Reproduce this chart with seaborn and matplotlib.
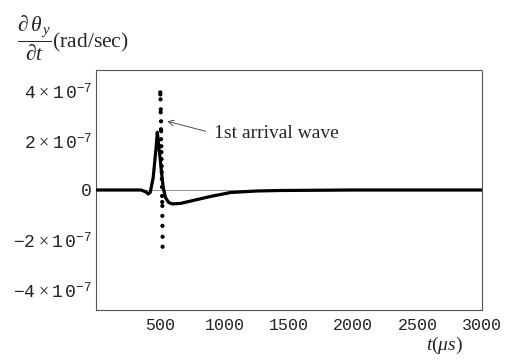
import numpy as np
import pandas as pd
import matplotlib
matplotlib.use("Agg")
import matplotlib.pyplot as plt
import seaborn as sns
from matplotlib.ticker import FuncFormatter

# angular velocity trace (thick line), t in microseconds
t_line = [0, 200, 350, 390, 406, 422, 445, 460, 469, 477, 488, 500, 512, 523, 540,
          565, 594, 656, 773, 890, 1047, 1250, 1437, 2000, 2500, 3000]
v_line = [0, 0, 0, -0.08e-7, -0.16e-7, -0.1e-7, 0.5e-7, 1.3e-7, 1.8e-7, 2.32e-7,
          1.8e-7, 1.2e-7, 0.6e-7, 0.1e-7, -0.3e-7, -0.5e-7, -0.56e-7, -0.54e-7,
          -0.4e-7, -0.26e-7, -0.1e-7, -0.04e-7, -0.02e-7, 0, 0, 0]

# scattered samples around the first arrival
t_dots = [500, 500, 502, 504, 503, 506, 505, 507, 506, 508, 509, 510, 511, 511,
          512, 513, 514, 515, 516, 516, 517, 518, 518]
v_dots = [3.92e-7, 3.84e-7, 3.64e-7, 3.24e-7, 3.12e-7, 2.76e-7, 2.44e-7, 2.36e-7,
          2.04e-7, 1.76e-7, 1.52e-7, 1.24e-7, 0.96e-7, 0.72e-7, 0.44e-7, 0.12e-7,
          -0.24e-7, -0.48e-7, -0.64e-7, -1.04e-7, -1.44e-7, -1.88e-7, -2.28e-7]

xticks = [500, 1000, 1500, 2000, 2500, 3000]
yticks = [-4e-7, -2e-7, 0, 2e-7, 4e-7]

line_df = pd.DataFrame({"t": t_line, "v": v_line})
dot_df = pd.DataFrame({"t": t_dots, "v": v_dots})

sns.set_style("white")
plt.rcParams["mathtext.fontset"] = "custom"
plt.rcParams["mathtext.rm"] = "Liberation Serif"
plt.rcParams["mathtext.it"] = "Liberation Serif:italic"
plt.rcParams["mathtext.tt"] = "Liberation Mono"
plt.rcParams["font.family"] = ["Liberation Serif", "DejaVu Serif"]

fig = plt.figure(figsize=(5.13, 3.61), dpi=100)
ax = fig.add_axes([0.187, 0.1413, 0.7526, 0.6648])

ax.axhline(0, color="#999999", lw=0.8, zorder=1)
sns.lineplot(data=line_df, x="t", y="v", color="black", lw=2.3, ax=ax, zorder=3)
sns.scatterplot(data=dot_df, x="t", y="v", color="black", s=9, edgecolor="none", ax=ax, zorder=4)

ax.set_xlim(0, 3000)
ax.set_ylim(-4.82e-7, 4.82e-7)
ax.set_xticks(xticks)
ax.set_yticks(yticks)


def yfmt(v, pos):
    if abs(v) < 1e-12:
        return r"$\mathtt{0}$"
    m = int(round(v / 1e-7))
    sign = "-" if m < 0 else ""
    return r"$\mathtt{" + sign + str(abs(m)) + r"}\;{\times}\;\mathtt{1}\,\mathtt{0}^{\mathtt{-7}}$"


ax.yaxis.set_major_formatter(FuncFormatter(yfmt))
ax.set_xticklabels([str(x) for x in xticks], family="Liberation Mono", fontsize=12, color="#222222")
for lab in ax.get_yticklabels():
    lab.set_fontsize(13)
    lab.set_color("#222222")
ax.tick_params(axis="both", direction="in", length=3, width=0.6, color="#888888")
ax.tick_params(axis="x", pad=5.5)
ax.tick_params(axis="y", pad=3)
ax.set_xlabel("")
ax.set_ylabel("")

for sp in ax.spines.values():
    sp.set_color("#555555")
    sp.set_linewidth(0.8)
    sp.set_linestyle((0, (1, 1)))

fig.text(0.033, 0.895, r"$\dfrac{\partial\,\theta_{\,y}}{\partial t}$(rad/sec)", fontsize=15.5, va="center", ha="left")
fig.text(0.903, 0.042, r"$t(\mu s)$", fontsize=14, ha="right", va="center")

ax.annotate("", xy=(555, 2.76e-7), xytext=(852, 2.36e-7),
            arrowprops=dict(arrowstyle="->", color="#333333", lw=0.6, shrinkA=0, shrinkB=0))
ax.text(914, 2.28e-7, "1st arrival wave", fontsize=14, va="center", ha="left")

fig.savefig("out.png", dpi=100)
